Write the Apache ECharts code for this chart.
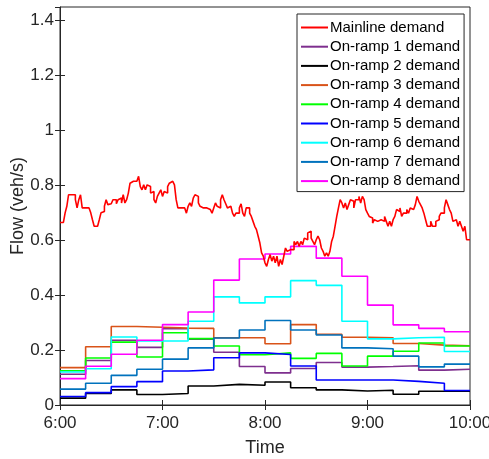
<!DOCTYPE html>
<html>
<head>
<meta charset="utf-8">
<script src="https://cdn.jsdelivr.net/npm/echarts@6/dist/echarts.min.js"></script>
<style>
  html, body { margin: 0; padding: 0; background: #fff; }
  #chart { width: 489px; height: 459px; }
</style>
</head>
<body>
<div id="chart"></div>
<script>
// x axis in minutes after 6:00
var timeTicks = ["6:00", "7:00", "8:00", "9:00", "10:00"];
var rampStarts = [0, 15, 30, 45, 60, 75, 90, 105, 120, 135, 150, 165, 180, 195, 210, 225];

// mainline demand, one value per minute (0..240)
var mainline = [
  0.665, 0.665, 0.665, 0.70, 0.724, 0.766, 0.766, 0.766, 0.766, 0.748,
  0.718, 0.748, 0.766, 0.718, 0.718, 0.712, 0.718, 0.718, 0.70, 0.675,
  0.651, 0.651, 0.651, 0.675, 0.70, 0.705, 0.724, 0.748, 0.73, 0.733,
  0.733, 0.748, 0.748, 0.733, 0.748, 0.754, 0.736, 0.766, 0.736, 0.748,
  0.772, 0.808, 0.815, 0.815, 0.815, 0.821, 0.833, 0.796, 0.784, 0.802,
  0.784, 0.802, 0.796, 0.772, 0.778, 0.748, 0.736, 0.76, 0.772, 0.784,
  0.76, 0.778, 0.772, 0.796, 0.808, 0.815, 0.808, 0.802, 0.748, 0.718,
  0.718, 0.718, 0.718, 0.712, 0.699, 0.724, 0.736, 0.724, 0.754, 0.766,
  0.76, 0.736, 0.724, 0.718, 0.712, 0.718, 0.714, 0.712, 0.718, 0.699,
  0.718, 0.736, 0.724, 0.718, 0.748, 0.766, 0.748, 0.733, 0.718, 0.724,
  0.718, 0.699, 0.687, 0.699, 0.699, 0.718, 0.733, 0.699, 0.687, 0.718,
  0.718, 0.699, 0.687, 0.669, 0.651, 0.639, 0.615, 0.59, 0.554, 0.542,
  0.518, 0.505, 0.53, 0.548, 0.524, 0.542, 0.518, 0.542, 0.505, 0.53,
  0.512, 0.542, 0.572, 0.56, 0.566, 0.572, 0.566, 0.596, 0.584, 0.596,
  0.578, 0.596, 0.584, 0.608, 0.602, 0.627, 0.633, 0.608, 0.596, 0.584,
  0.602, 0.615, 0.602, 0.572, 0.56, 0.542, 0.554, 0.542, 0.56, 0.596,
  0.615, 0.651, 0.687, 0.718, 0.748, 0.736, 0.718, 0.736, 0.712, 0.73,
  0.748, 0.742, 0.718, 0.748, 0.748, 0.76, 0.736, 0.76, 0.748, 0.712,
  0.699, 0.687, 0.681, 0.663, 0.675, 0.669, 0.663, 0.675, 0.681, 0.669,
  0.687, 0.669, 0.651, 0.669, 0.651, 0.675, 0.687, 0.712, 0.705, 0.718,
  0.687, 0.699, 0.699, 0.712, 0.699, 0.718, 0.712, 0.718, 0.73, 0.76,
  0.742, 0.73, 0.718, 0.699, 0.675, 0.651, 0.651, 0.669, 0.651, 0.651,
  0.669, 0.675, 0.687, 0.699, 0.699, 0.718, 0.748, 0.73, 0.712, 0.699,
  0.669, 0.675, 0.669, 0.651, 0.669, 0.651, 0.633, 0.651, 0.602, 0.602,
  0.602
];

// on-ramp demands, one value per 15 min
var ramp1 = [0.112, 0.162, 0.236, 0.21, 0.278, 0.24, 0.192, 0.14, 0.117, 0.133, 0.155, 0.138, 0.14, 0.143, 0.127, 0.13];
var ramp2 = [0.025, 0.042, 0.055, 0.038, 0.042, 0.069, 0.075, 0.072, 0.084, 0.063, 0.055, 0.051, 0.054, 0.039, 0.05, 0.05];
var ramp3 = [0.136, 0.212, 0.286, 0.283, 0.28, 0.279, 0.245, 0.245, 0.223, 0.293, 0.258, 0.247, 0.245, 0.224, 0.218, 0.216];
var ramp4 = [0.125, 0.171, 0.229, 0.175, 0.263, 0.242, 0.215, 0.183, 0.19, 0.17, 0.188, 0.142, 0.178, 0.196, 0.226, 0.215];
var ramp5 = [0.031, 0.045, 0.067, 0.085, 0.124, 0.128, 0.172, 0.19, 0.184, 0.142, 0.091, 0.091, 0.091, 0.086, 0.079, 0.053];
var ramp6 = [0.12, 0.132, 0.248, 0.233, 0.233, 0.305, 0.394, 0.372, 0.394, 0.453, 0.436, 0.305, 0.241, 0.245, 0.247, 0.195];
var ramp7 = [0.058, 0.079, 0.108, 0.13, 0.167, 0.208, 0.244, 0.273, 0.308, 0.273, 0.255, 0.208, 0.205, 0.178, 0.139, 0.149];
var ramp8 = [0.096, 0.141, 0.185, 0.236, 0.293, 0.339, 0.455, 0.532, 0.55, 0.578, 0.535, 0.469, 0.364, 0.292, 0.279, 0.267];

var seriesNames = ["Mainline demand", "On-ramp 1 demand", "On-ramp 2 demand", "On-ramp 3 demand",
  "On-ramp 4 demand", "On-ramp 5 demand", "On-ramp 6 demand", "On-ramp 7 demand", "On-ramp 8 demand"];
var seriesColors = ["#ff0000", "#7e2f8e", "#000000", "#d95319", "#00ff00", "#0000ff", "#00ffff", "#0072bd", "#ff00ff"];
var ramps = [ramp1, ramp2, ramp3, ramp4, ramp5, ramp6, ramp7, ramp8];

var font = "'Liberation Sans', Arial, sans-serif";
var axisColor = "#262626";

function rampData(vals) {
  var d = rampStarts.map(function (t, i) { return [t, vals[i]]; });
  d.push([240, vals[vals.length - 1]]); // close the last 15 min step
  return d;
}

var series = [{
  name: seriesNames[0],
  type: "line",
  step: "end",
  symbol: "none",
  data: mainline.map(function (v, i) { return [i, v]; }),
  lineStyle: { width: 1.6, color: seriesColors[0] },
  itemStyle: { color: seriesColors[0] },
  z: 3
}];
ramps.forEach(function (r, i) {
  series.push({
    name: seriesNames[i + 1],
    type: "line",
    step: "end",
    symbol: "none",
    data: rampData(r),
    lineStyle: { width: 1.6, color: seriesColors[i + 1] },
    itemStyle: { color: seriesColors[i + 1] },
    z: 2
  });
});

var myChart = echarts.init(document.getElementById("chart"), null, { renderer: "canvas" });
var option = {
  animation: false,
  textStyle: { fontFamily: font },
  grid: {
    left: 60, right: 19, top: 7, bottom: 54,
    outerBoundsMode: "none",
    containLabel: false,
    show: true, borderColor: axisColor, borderWidth: 1
  },
  legend: {
    orient: "vertical",
    left: 297,
    top: 14,
    padding: [6, 4, 3, 3],
    itemWidth: 27,
    itemHeight: 14,
    itemGap: 4.2,
    backgroundColor: "#fff",
    borderColor: axisColor,
    borderWidth: 1,
    borderRadius: 0,
    itemStyle: { opacity: 0 },
    textStyle: { fontSize: 15, color: "#000", fontFamily: font, padding: [0, 0, 0, -3] },
    data: seriesNames
  },
  xAxis: [{
    type: "value",
    min: 0, max: 240, interval: 60,
    name: "Time",
    nameLocation: "middle",
    nameGap: 34,
    nameMoveOverlap: false,
    nameTextStyle: { fontSize: 18, color: axisColor },
    axisLine: { lineStyle: { color: axisColor } },
    axisTick: { inside: true, length: 5, lineStyle: { color: axisColor } },
    axisLabel: {
      fontSize: 17, color: axisColor, margin: 10,
      formatter: function (v) { return timeTicks[v / 60]; }
    },
    splitLine: { show: false }
  }, {
    type: "value",
    position: "top",
    min: 0, max: 240, interval: 60,
    axisLine: { show: false },
    axisTick: { inside: true, length: 5, lineStyle: { color: axisColor } },
    axisLabel: { show: false },
    splitLine: { show: false }
  }],
  yAxis: [{
    type: "value",
    min: 0, max: 1.45, interval: 0.2,
    name: "Flow (veh/s)",
    nameLocation: "middle",
    nameGap: 33,
    nameMoveOverlap: false,
    nameTextStyle: { fontSize: 18, color: axisColor },
    axisLine: { show: true, lineStyle: { color: axisColor } },
    axisTick: { show: true, inside: true, length: 5, lineStyle: { color: axisColor } },
    axisLabel: { fontSize: 17, color: axisColor, margin: 6, showMaxLabel: false },
    splitLine: { show: false }
  }, {
    type: "value",
    position: "right",
    min: 0, max: 1.45, interval: 0.2,
    axisLine: { show: false },
    axisTick: { show: true, inside: true, length: 5, lineStyle: { color: axisColor } },
    axisLabel: { show: false },
    splitLine: { show: false }
  }],
  series: series
};
myChart.setOption(option);
</script>
</body>
</html>
